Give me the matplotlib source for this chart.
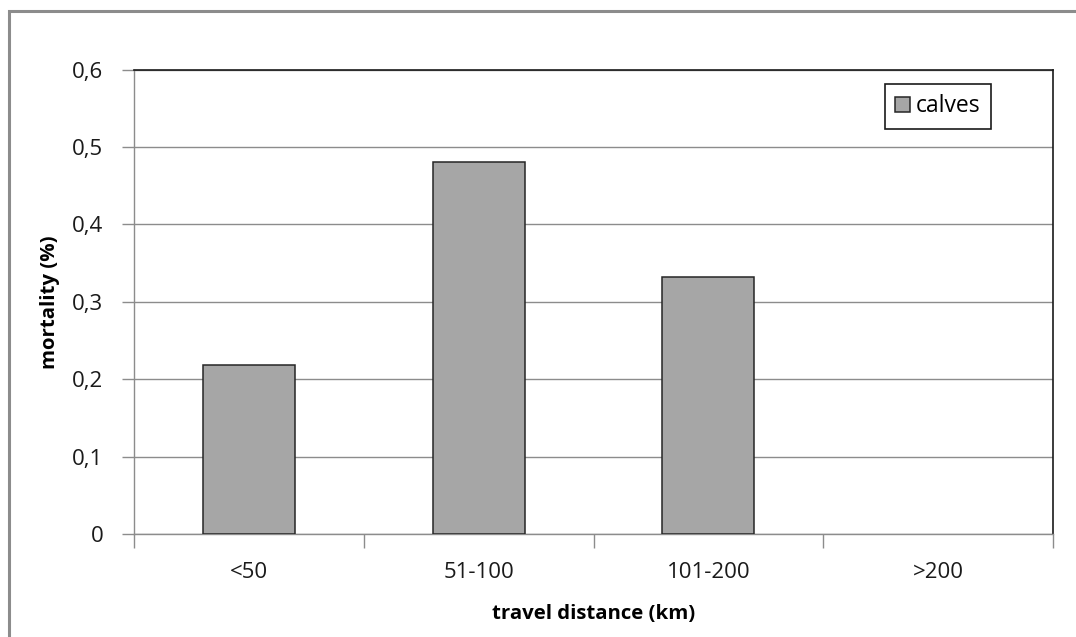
import matplotlib
matplotlib.use("Agg")
import matplotlib.pyplot as plt
import matplotlib.patches as mpatches
from matplotlib.ticker import FuncFormatter
import numpy as np

# ── Data ───────────────────────────────────────────────────────────────────
categories = ["<50", "51-100", "101-200", ">200"]
calves = [0.218, 0.480, 0.332, 0.0]
y_ticks = [0, 0.1, 0.2, 0.3, 0.4, 0.5, 0.6]

plt.rcParams["font.family"] = ["Open Sans", "DejaVu Sans"]

W, H = 1076, 637
fig = plt.figure(figsize=(W / 100, H / 100), dpi=100)
ax = fig.add_axes([134 / W, 1 - 534 / H, (1053 - 134) / W, (534 - 69.5) / H])

# outer chart frame (cropped on right and bottom)
frame = mpatches.Rectangle((9 / W, -0.1), 1.2, 1 - 11 / H + 0.1,
                           transform=fig.transFigure, fill=False,
                           edgecolor="#8c8c8c", linewidth=2.2, clip_on=False)
fig.patches.append(frame)

x = np.arange(len(categories))
bars = ax.bar(x, calves, width=0.4, color="#a6a6a6", edgecolor="#262626",
              linewidth=1.1, label="calves", zorder=3)
for b, v in zip(bars, calves):
    if v == 0:
        b.set_linewidth(0)

ax.set_xlim(-0.5, len(categories) - 0.5)
ax.set_ylim(0, 0.6)
ax.set_yticks(y_ticks)
ax.yaxis.set_major_formatter(FuncFormatter(
    lambda v, p: "0" if v == 0 else f"{v:.1f}".replace(".", ",")))
ax.grid(axis="y", color="#8c8c8c", linewidth=1.0, zorder=0)

# x ticks at category boundaries, labels centred
ax.set_xticks(np.arange(-0.5, len(categories), 1.0))
ax.set_xticklabels([])
ax.set_xticks(x, minor=True)
ax.set_xticklabels(categories, minor=True)
ax.tick_params(axis="x", which="major", length=10, width=1, color="#8c8c8c",
               direction="out")
ax.tick_params(axis="x", which="minor", length=0, pad=20, labelsize=16,
               labelcolor="#1a1a1a")
ax.tick_params(axis="y", length=9, width=1, color="#8c8c8c", pad=13,
               labelsize=16, labelcolor="#1a1a1a")

for s in ["left", "bottom"]:
    ax.spines[s].set_color("#8c8c8c")
    ax.spines[s].set_linewidth(1.0)
for s in ["top", "right"]:
    ax.spines[s].set_color("#1a1a1a")
    ax.spines[s].set_linewidth(1.2)

ax.set_xlabel("travel distance (km)", fontsize=14.7, fontweight="bold",
              labelpad=15)
ax.set_ylabel("mortality (%)", fontsize=14.7, fontweight="bold", labelpad=9)

leg = ax.legend(loc="upper right", bbox_to_anchor=(991 / W, 1 - 84 / H),
                bbox_transform=fig.transFigure, fancybox=False,
                edgecolor="#1a1a1a", framealpha=1, fontsize=16.5,
                handlelength=0.65, handleheight=0.65, handletextpad=0.25,
                borderpad=0.45, borderaxespad=0)
leg.get_frame().set_linewidth(1.2)

fig.savefig("out.png", dpi=100, facecolor="white")
